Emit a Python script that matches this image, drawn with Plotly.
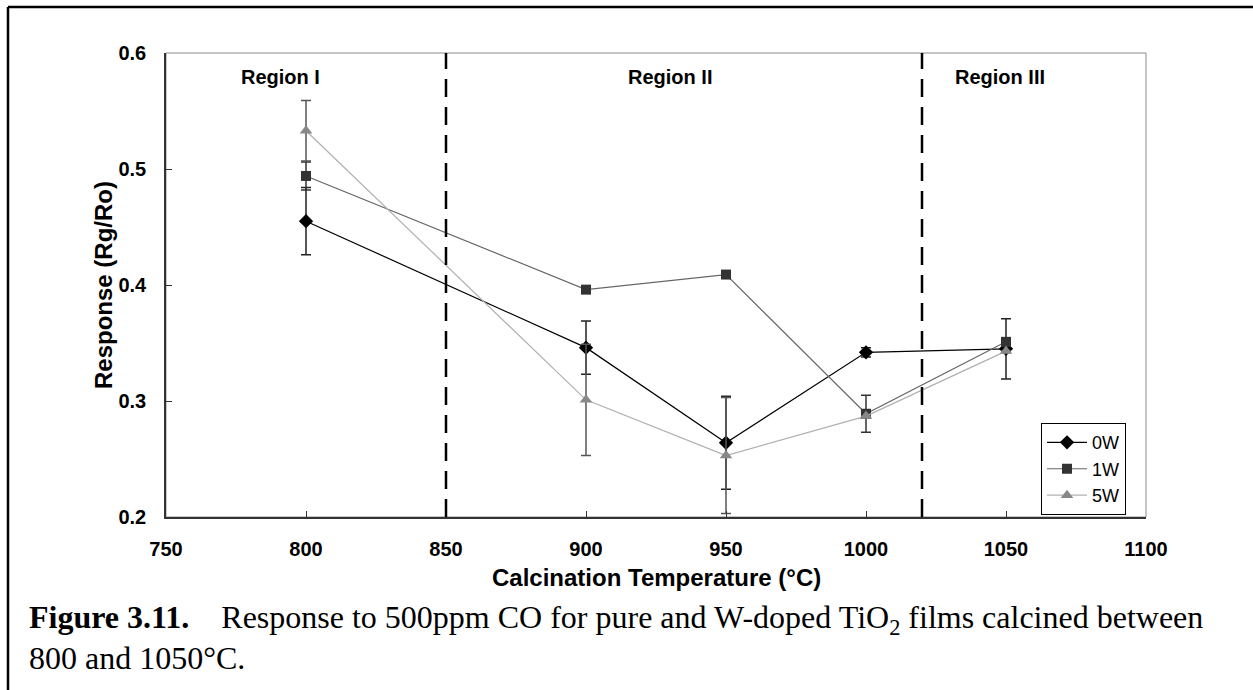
import plotly.graph_objects as go

temps = [800, 900, 950, 1000, 1050]
w0 = [0.455, 0.346, 0.264, 0.342, 0.345]
w0_err = [0.029, 0.023, 0.040, 0.004, 0.026]
w1 = [0.494, 0.396, 0.409, 0.289, 0.351]
w1_err = [0.012, 0.0, 0.0, 0.016, 0.0]
w5 = [0.533, 0.301, 0.253, 0.287, 0.343]
w5_err = [0.026, 0.048, 0.050, 0.0, 0.0]

x_ticks = [750, 800, 850, 900, 950, 1000, 1050, 1100]
y_ticks = [0.2, 0.3, 0.4, 0.5, 0.6]

region_bounds = [850, 1020]
region_labels = ["Region I", "Region II", "Region III"]
region_pos = [791, 930, 1048]

W, H = 1253, 690
L, R, T, B = 166, 1146, 53, 517


def px(x):
    return (x - L) / (R - L)


def py(y):
    return (B - y) / (B - T)


fig = go.Figure()

fig.add_trace(go.Scatter(
    x=temps, y=w0, name="0W", mode="lines+markers",
    line=dict(color="#000000", width=1.2),
    marker=dict(symbol="diamond", size=11, color="#000000"),
    error_y=dict(type="data", array=w0_err, visible=True, color="#222222", thickness=1.5, width=5),
))
fig.add_trace(go.Scatter(
    x=temps, y=w1, name="1W", mode="lines+markers",
    line=dict(color="#666666", width=1.2),
    marker=dict(symbol="square", size=10, color="#333333"),
    error_y=dict(type="data", array=w1_err, visible=True, color="#333333", thickness=1.5, width=5),
))
fig.add_trace(go.Scatter(
    x=temps, y=w5, name="5W", mode="lines+markers",
    line=dict(color="#b0b0b0", width=1.2),
    marker=dict(symbol="triangle-up", size=11, color="#888888"),
    error_y=dict(type="data", array=w5_err, visible=True, color="#555555", thickness=1.5, width=5),
))

shapes = []
shapes.append(dict(type="rect", xref="paper", yref="paper", x0=0, y0=0, x1=1, y1=1,
                   line=dict(color="#8c8c8c", width=1), layer="below"))
for b in region_bounds:
    shapes.append(dict(type="line", xref="x", yref="paper", x0=b, x1=b, y0=0, y1=1,
                       line=dict(color="#000000", width=2.5, dash="18px,10px")))
shapes.append(dict(type="line", xref="paper", yref="paper", x0=px(8), x1=px(W + 5),
                   y0=py(7), y1=py(7), line=dict(color="#000000", width=2.5)))
shapes.append(dict(type="line", xref="paper", yref="paper", x0=px(8), x1=px(8),
                   y0=py(7), y1=py(H + 5), line=dict(color="#000000", width=2.5)))

sans = "Liberation Sans, Arial"
annotations = []
for lab, pos in zip(region_labels, region_pos):
    annotations.append(dict(x=pos, y=py(77), xref="x", yref="paper", yanchor="middle",
                            text="<b>" + lab + "</b>", showarrow=False,
                            font=dict(family=sans, size=20, color="#000")))

annotations.append(dict(x=0.5, y=py(577), xref="paper", yref="paper", xanchor="center", yanchor="middle",
                        text="<b>Calcination Temperature (°C)</b>", showarrow=False,
                        font=dict(family=sans, size=24, color="#000")))
annotations.append(dict(x=px(103), y=0.5, xref="paper", yref="paper", xanchor="center", yanchor="middle",
                        text="<b>Response (Rg/Ro)</b>", showarrow=False, textangle=-90,
                        font=dict(family=sans, size=24, color="#000")))

cap_font = dict(family="Liberation Serif, Times New Roman", size=32, color="#000")
annotations.append(dict(x=px(27), y=py(619), xref="paper", yref="paper", xanchor="left", yanchor="middle",
                        text="<b>Figure 3.11.</b>\u00a0\u00a0\u00a0\u00a0Response to 500ppm CO for pure and W-doped TiO<sub>2</sub> films calcined between",
                        showarrow=False, font=cap_font))
annotations.append(dict(x=px(27), y=py(658), xref="paper", yref="paper", xanchor="left", yanchor="middle",
                        text="800 and 1050°C.", showarrow=False, font=cap_font))

tick_font = dict(family=sans, size=20, color="#000")

fig.update_layout(
    width=W, height=H,
    margin=dict(l=L, r=W - R, t=T, b=H - B, pad=0),
    paper_bgcolor="white", plot_bgcolor="white",
    shapes=shapes, annotations=annotations,
    xaxis=dict(range=[750, 1100], tickvals=x_ticks,
               ticktext=["<b>%d</b>" % v for v in x_ticks],
               showgrid=False, zeroline=False, showline=True, linecolor="#333333", linewidth=1.5,
               ticks="inside", ticklen=6, tickcolor="#333333", tickfont=tick_font,
               ticklabelstandoff=13),
    yaxis=dict(range=[0.2, 0.6], tickvals=y_ticks,
               ticktext=["<b>%.1f</b>" % v for v in y_ticks],
               showgrid=False, zeroline=False, showline=True, linecolor="#333333", linewidth=1.5,
               ticks="inside", ticklen=6, tickcolor="#333333", tickfont=tick_font,
               ticklabelstandoff=14),
    legend=dict(x=0.9796, y=0.004, xanchor="right", yanchor="bottom", bordercolor="#000000", borderwidth=1,
                bgcolor="white", font=dict(family=sans, size=18, color="#000"),
                itemwidth=40, tracegroupgap=0),
    showlegend=True,
)

fig.write_html("out.html")
